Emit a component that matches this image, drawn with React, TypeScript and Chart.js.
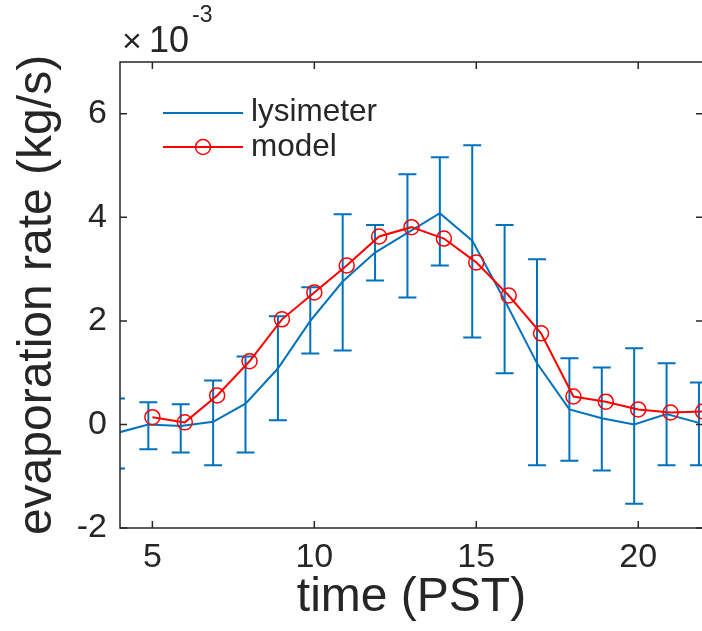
import React, { useEffect, useRef } from "react";
import { Chart, registerables } from "chart.js";

Chart.register(...registerables);

// lysimeter (x 1e-3 kg/s), sampled slightly before each hour
const lysTimes = [3.875, 4.875, 5.875, 6.875, 7.875, 8.875, 9.875, 10.875, 11.875, 12.875, 13.875, 14.875, 15.875, 16.875, 17.875, 18.875, 19.875, 20.875, 21.875];
const lysValues = [-0.17, 0.0, -0.03, 0.05, 0.4, 1.08, 2.0, 2.76, 3.32, 3.7, 4.08, 3.55, 2.4, 1.18, 0.29, 0.12, 0.0, 0.2, 0.03];
const lysLow = [-0.85, -0.48, -0.54, -0.79, -0.54, 0.08, 1.37, 1.43, 2.78, 2.45, 3.07, 1.68, 0.99, -0.79, -0.7, -0.89, -1.53, -0.79, -0.79];
const lysHigh = [0.5, 0.43, 0.39, 0.85, 1.31, 2.09, 2.65, 4.06, 3.85, 4.83, 5.16, 5.39, 3.85, 3.19, 1.28, 1.1, 1.47, 1.18, 0.81];

// model
const modelTimes = [5, 6, 7, 8, 9, 10, 11, 12, 13, 14, 15, 16, 17, 18, 19, 20, 21, 22];
const modelValues = [0.14, 0.04, 0.56, 1.22, 2.03, 2.55, 3.07, 3.63, 3.81, 3.59, 3.13, 2.49, 1.76, 0.54, 0.44, 0.29, 0.23, 0.25];

const seriesNames = ["lysimeter", "model"];
const xTitle = "time (PST)";
const yTitle = "evaporation rate (kg/s)";
const xRange = [4, 22];
const yRange = [-2, 7];

const BLUE = "#0072BD";
const RED = "#FF0000";
const AX = "#262626";
const FONT = "'Liberation Sans', Arial, Helvetica, sans-serif";

const decor = {
  id: "decor",
  afterDatasetDraw(chart: any, args: any) {
    if (args.index !== 0) return;
    const { ctx, chartArea: ca } = chart;
    const xs = chart.scales.x;
    const ys = chart.scales.y;
    ctx.save();
    ctx.beginPath();
    ctx.rect(ca.left, ca.top, ca.right - ca.left, ca.bottom - ca.top);
    ctx.clip();
    ctx.strokeStyle = BLUE;
    ctx.lineWidth = 2;
    for (let i = 0; i < lysTimes.length; i++) {
      const x = xs.getPixelForValue(lysTimes[i]);
      const yl = ys.getPixelForValue(lysLow[i]);
      const yh = ys.getPixelForValue(lysHigh[i]);
      ctx.beginPath();
      ctx.moveTo(x, yl);
      ctx.lineTo(x, yh);
      ctx.moveTo(x - 9, yl);
      ctx.lineTo(x + 9, yl);
      ctx.moveTo(x - 9, yh);
      ctx.lineTo(x + 9, yh);
      ctx.stroke();
    }
    ctx.restore();
  },
  afterDraw(chart: any) {
    const { ctx, chartArea: ca } = chart;
    const xs = chart.scales.x;
    const ys = chart.scales.y;
    ctx.save();
    ctx.strokeStyle = AX;
    ctx.lineWidth = 1.5;
    ctx.beginPath();
    ctx.rect(ca.left, ca.top, ca.right - ca.left, ca.bottom - ca.top);
    ctx.stroke();
    const tl = 7;
    ctx.beginPath();
    for (const t of xs.ticks) {
      const x = xs.getPixelForValue(t.value);
      ctx.moveTo(x, ca.bottom);
      ctx.lineTo(x, ca.bottom - tl);
      ctx.moveTo(x, ca.top);
      ctx.lineTo(x, ca.top + tl);
    }
    for (const t of ys.ticks) {
      const y = ys.getPixelForValue(t.value);
      ctx.moveTo(ca.left, y);
      ctx.lineTo(ca.left + tl, y);
      ctx.moveTo(ca.right, y);
      ctx.lineTo(ca.right - tl, y);
    }
    ctx.stroke();

    // exponent label
    ctx.fillStyle = AX;
    ctx.textBaseline = "alphabetic";
    ctx.textAlign = "left";
    ctx.font = `34px ${FONT}`;
    ctx.fillText("\u00d7", 122, 52);
    ctx.font = `36px ${FONT}`;
    ctx.fillText("10", 149, 52);
    ctx.font = `23px ${FONT}`;
    ctx.fillText("-3", 192, 22);

    // legend
    ctx.lineWidth = 2;
    ctx.strokeStyle = BLUE;
    ctx.beginPath();
    ctx.moveTo(163, 113);
    ctx.lineTo(243, 113);
    ctx.stroke();
    ctx.strokeStyle = RED;
    ctx.beginPath();
    ctx.moveTo(163, 147);
    ctx.lineTo(243, 147);
    ctx.stroke();
    ctx.lineWidth = 1.5;
    ctx.beginPath();
    ctx.arc(203, 147, 7.5, 0, Math.PI * 2);
    ctx.stroke();
    ctx.font = `31.5px ${FONT}`;
    ctx.fillStyle = AX;
    ctx.fillText(seriesNames[0], 251, 121);
    ctx.fillText(seriesNames[1], 251, 156);
    ctx.restore();
  },
};

export default function App() {
  const ref = useRef<HTMLCanvasElement | null>(null);
  useEffect(() => {
    if (!ref.current) return;
    const chart = new Chart(ref.current, {
      type: "line",
      data: {
        datasets: [
          {
            label: seriesNames[0],
            data: lysTimes.map((t, i) => ({ x: t, y: lysValues[i] })),
            borderColor: BLUE,
            borderWidth: 2,
            pointRadius: 0,
            fill: false,
            tension: 0,
            order: 1,
          },
          {
            label: seriesNames[1],
            data: modelTimes.map((t, i) => ({ x: t, y: modelValues[i] })),
            borderColor: RED,
            borderWidth: 2,
            pointRadius: 7.5,
            pointBorderWidth: 1.5,
            pointBackgroundColor: "rgba(0,0,0,0)",
            pointBorderColor: RED,
            pointStyle: "circle",
            fill: false,
            tension: 0,
            order: 0,
          },
        ],
      },
      options: {
        animation: false,
        responsive: false,
        maintainAspectRatio: false,
        layout: { padding: { top: 62, right: 3, left: 0, bottom: 0 } },
        plugins: {
          legend: { display: false },
          tooltip: { enabled: false },
        },
        scales: {
          x: {
            type: "linear",
            min: xRange[0],
            max: xRange[1],
            grid: { display: false, drawTicks: false },
            border: { display: false },
            ticks: {
              stepSize: 5,
              includeBounds: false,
              color: AX,
              font: { size: 34, family: FONT },
              padding: 9,
              maxRotation: 0,
              autoSkip: false,
            },
            title: {
              display: true,
              text: xTitle,
              color: AX,
              font: { size: 48, family: FONT },
              padding: { top: 0, bottom: 4 },
            },
            afterFit: (s: any) => {
              s.height = 103;
            },
          },
          y: {
            type: "linear",
            min: yRange[0],
            max: yRange[1],
            grid: { display: false, drawTicks: false },
            border: { display: false },
            ticks: {
              stepSize: 2,
              includeBounds: false,
              color: AX,
              font: { size: 34, family: FONT },
              padding: 13,
            },
            title: {
              display: true,
              text: yTitle,
              color: AX,
              font: { size: 48, family: FONT },
              padding: { top: 9, bottom: 0 },
            },
            afterFit: (s: any) => {
              s.width = 120;
            },
          },
        },
      },
      plugins: [decor],
    });
    return () => chart.destroy();
  }, []);
  return (
    <div
      style={{
        position: "absolute",
        left: 0,
        top: 0,
        width: 702,
        height: 631,
        overflow: "hidden",
        background: "#fff",
      }}
    >
      <canvas ref={ref} width={712} height={631} style={{ display: "block" }} />
    </div>
  );
}
